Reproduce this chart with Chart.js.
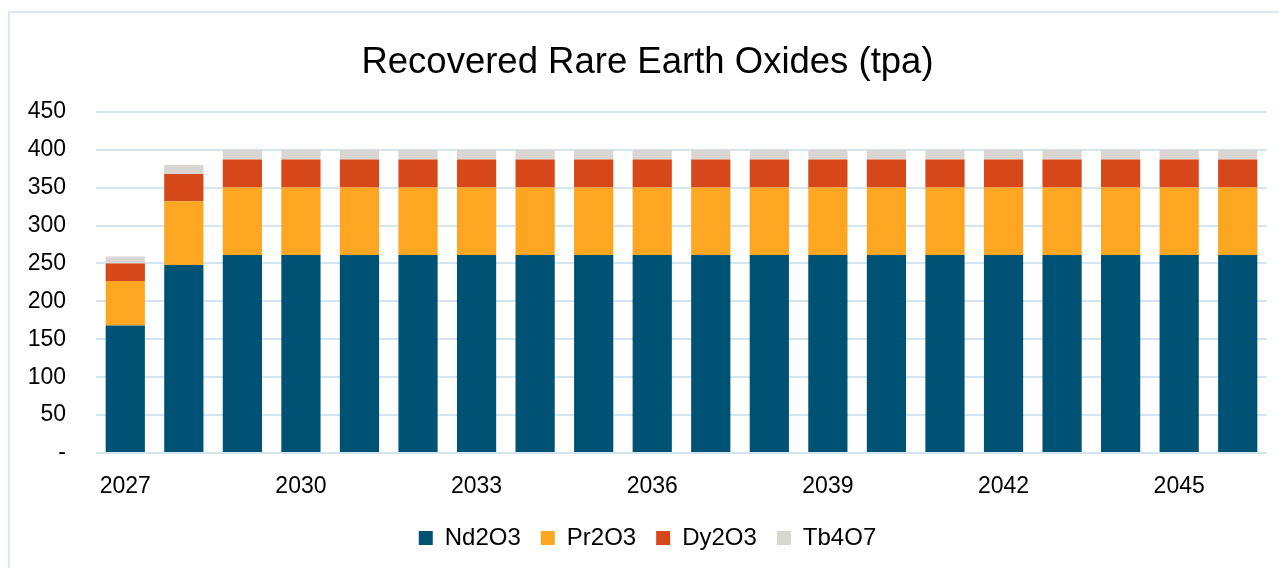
<!DOCTYPE html>
<html>
<head>
<meta charset="utf-8">
<script src="https://cdn.jsdelivr.net/npm/chart.js@4"></script>
<style>
  html, body { margin: 0; padding: 0; background: #fff; overflow: hidden; }
  #frame {
    position: absolute; left: 8px; top: 11px;
    width: 1271px; height: 555px;
    border-left: 2px solid #dbe9f2; border-top: 2px solid #dbe9f2;
  }
</style>
</head>
<body>
<div id="frame"><canvas id="reoChart"></canvas></div>
<script>
const years = ['2027', '2028', '2029', '2030', '2031', '2032', '2033', '2034', '2035', '2036',
  '2037', '2038', '2039', '2040', '2041', '2042', '2043', '2044', '2045', '2046'];
const nd2o3 = [168, 248, 261, 261, 261, 261, 261, 261, 261, 261, 261, 261, 261, 261, 261, 261, 261, 261, 261, 261];
const pr2o3 = [59, 84, 89, 89, 89, 89, 89, 89, 89, 89, 89, 89, 89, 89, 89, 89, 89, 89, 89, 89];
const dy2o3 = [23, 36, 37, 37, 37, 37, 37, 37, 37, 37, 37, 37, 37, 37, 37, 37, 37, 37, 37, 37];
const tb4o7 = [9, 12, 13, 13, 13, 13, 13, 13, 13, 13, 13, 13, 13, 13, 13, 13, 13, 13, 13, 13];
const seriesNames = ['Nd2O3', 'Pr2O3', 'Dy2O3', 'Tb4O7'];
const seriesColors = ['#005275', '#fda621', '#d64819', '#d9d6d2'];

Chart.defaults.font.family = '"Liberation Sans", Arial, sans-serif';
Chart.defaults.color = '#000';

const ctx = document.getElementById('reoChart').getContext('2d');
const allData = [nd2o3, pr2o3, dy2o3, tb4o7];

new Chart(ctx, {
  type: 'bar',
  data: {
    labels: years,
    datasets: allData.map((d, i) => ({
      label: seriesNames[i],
      data: d,
      backgroundColor: seriesColors[i],
      borderWidth: 0,
      barPercentage: 0.67,
      categoryPercentage: 1
    }))
  },
  options: {
    responsive: true,
    maintainAspectRatio: false,
    animation: false,
    layout: { padding: { left: 18, right: 14, top: 8, bottom: 8 } },
    plugins: {
      title: {
        display: true,
        text: 'Recovered Rare Earth Oxides (tpa)',
        font: { size: 36.5, weight: 'normal' },
        color: '#000',
        padding: { top: 20, bottom: 27 }
      },
      legend: {
        position: 'bottom',
        labels: {
          boxWidth: 14, boxHeight: 14,
          font: { size: 24, lineHeight: 1 },
          padding: 20
        }
      },
      tooltip: { enabled: false }
    },
    scales: {
      x: {
        stacked: true,
        afterFit: function (scale) { scale.height = 53; },
        grid: { display: false, drawTicks: false },
        border: { display: false },
        ticks: {
          autoSkip: false,
          maxRotation: 0,
          font: { size: 23, lineHeight: 1 },
          padding: 22.5,
          callback: function (v, i) { return i % 3 === 0 ? years[i] : ''; }
        }
      },
      y: {
        stacked: true,
        min: 0,
        max: 450,
        afterFit: function (scale) { scale.width = 68; },
        grid: { color: '#d3e5ef', lineWidth: 2, drawTicks: false },
        border: { display: false },
        ticks: {
          stepSize: 50,
          font: { size: 23 },
          padding: 30,
          callback: v => v === 0 ? '-' : v
        }
      }
    }
  }
});
</script>
</body>
</html>
